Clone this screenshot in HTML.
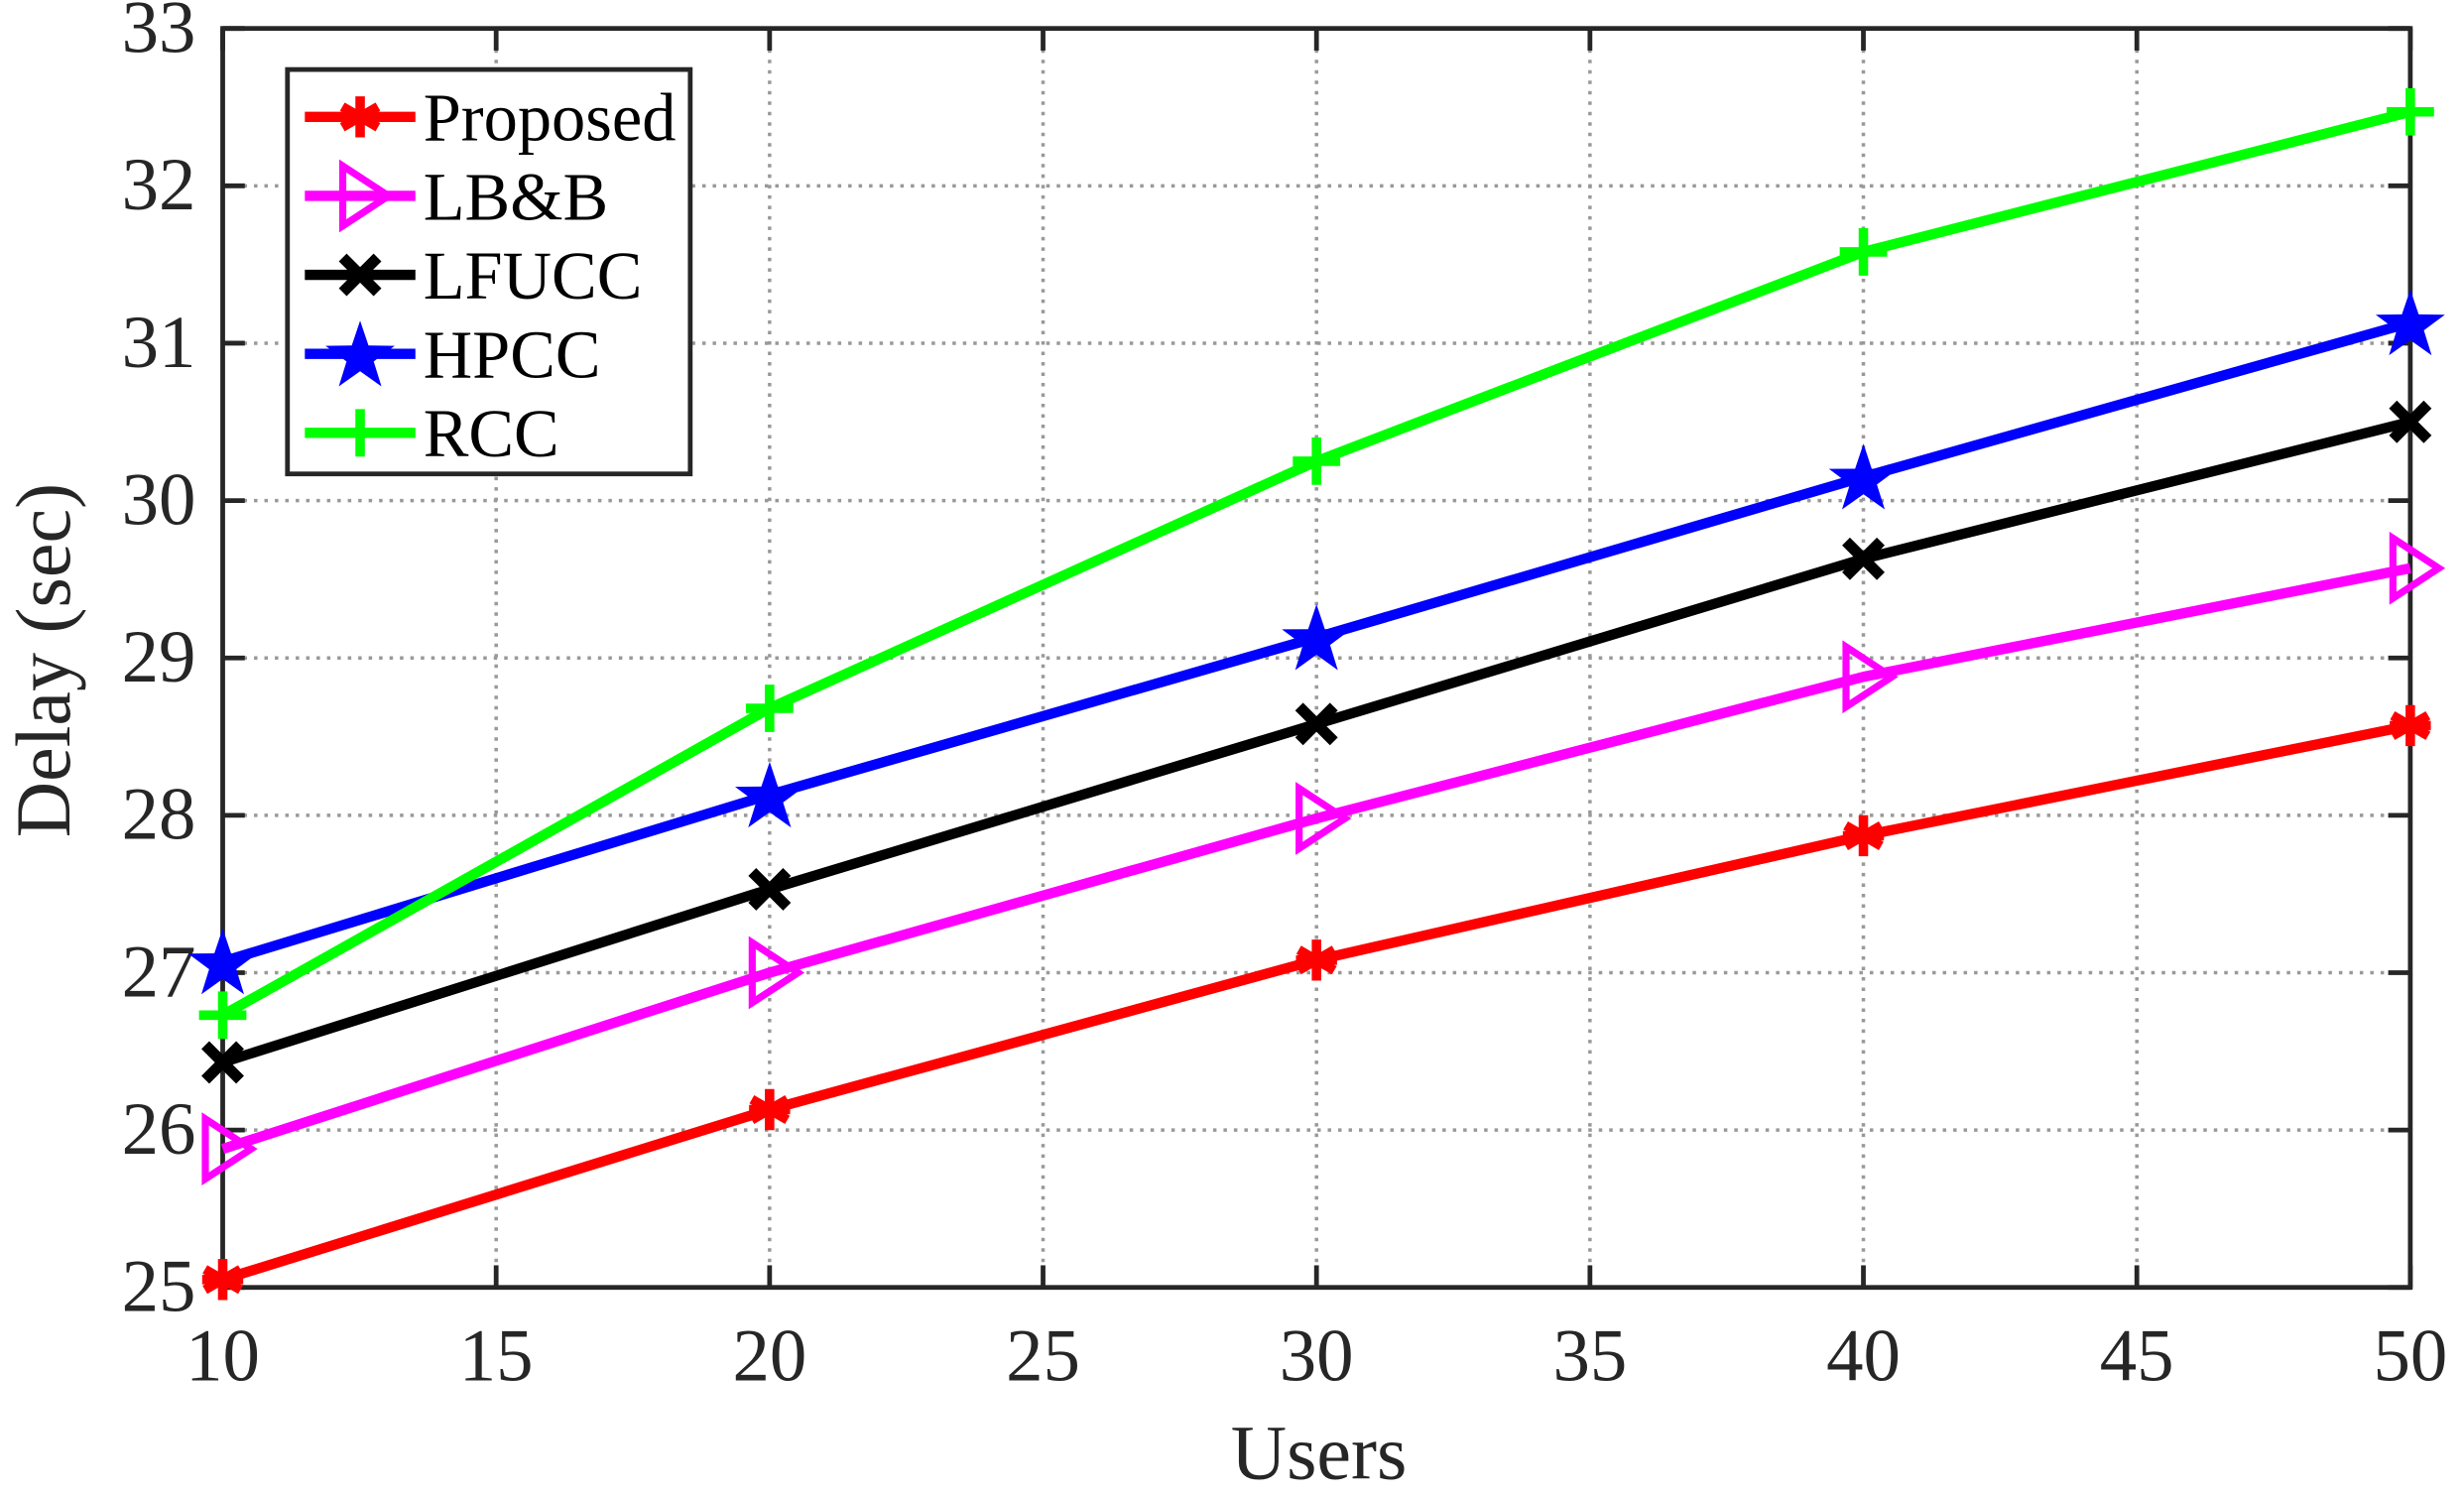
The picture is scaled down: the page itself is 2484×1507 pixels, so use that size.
<!DOCTYPE html>
<html><head><meta charset="utf-8"><style>
html,body{margin:0;padding:0;background:#fff;}
svg{display:block;}
text{font-family:"Liberation Serif",serif;fill:#262626;}
</style></head><body>
<svg id="s" width="2484" height="1507" viewBox="0 0 1560 946.4" xmlns="http://www.w3.org/2000/svg">
<rect width="1560" height="947" fill="#fff"/>
<g id="grid" stroke="#999" stroke-width="2.2" stroke-dasharray="2.2,4.4"></g>
<g id="ax"></g>
<g id="ser"></g>
<g id="leg"></g>
</svg>
<script>
const NS="http://www.w3.org/2000/svg";
function el(p,t,a,txt){const e=document.createElementNS(NS,t);for(const k in a)e.setAttribute(k,a[k]);if(txt!==undefined)e.textContent=txt;p.appendChild(e);return e;}
const L=141,R=1526,T=18,B=815;
const X=u=>L+(u-10)*(R-L)/40, Y=v=>B-(v-25)*(B-T)/8;
const g=document.getElementById('grid'),ax=document.getElementById('ax');
for(let u=15;u<50;u+=5)el(g,'line',{x1:X(u),x2:X(u),y1:T,y2:B});
for(let v=26;v<33;v++)el(g,'line',{x1:L,x2:R,y1:Y(v),y2:Y(v)});
el(ax,'rect',{x:L,y:T,width:R-L,height:B-T,fill:'none',stroke:'#262626','stroke-width':3});
for(let u=10;u<=50;u+=5){el(ax,'line',{x1:X(u),x2:X(u),y1:B,y2:B-14,stroke:'#262626','stroke-width':3});el(ax,'line',{x1:X(u),x2:X(u),y1:T,y2:T+14,stroke:'#262626','stroke-width':3});
el(ax,'text',{x:X(u),y:874,'font-size':47,'text-anchor':'middle'},u);}
for(let v=25;v<=33;v++){el(ax,'line',{x1:L,x2:L+14,y1:Y(v),y2:Y(v),stroke:'#262626','stroke-width':3});el(ax,'line',{x1:R,x2:R-14,y1:Y(v),y2:Y(v),stroke:'#262626','stroke-width':3});
el(ax,'text',{x:124,y:Y(v)+15,'font-size':47,'text-anchor':'end'},v);}
el(ax,'text',{x:835,y:936,'font-size':49,'text-anchor':'middle'},'Users');
el(ax,'text',{x:0,y:0,'font-size':49,'text-anchor':'middle',transform:'translate(44,418) rotate(-90)'},'Delay (sec)');
const S=[
['Proposed','#ff0000','ast',[25.05,26.13,27.08,27.87,28.57]],
['LB&B','#ff00ff','tri',[25.88,27.0,27.98,28.88,29.57]],
['LFUCC','#000000','x',[26.43,27.53,28.58,29.63,30.5]],
['HPCC','#0000ff','star',[27.07,28.13,29.13,30.15,31.13]],
['RCC','#00ff00','plus',[26.73,28.68,30.25,31.58,32.47]]];
function mk(p,type,c,x,y){
 const s={stroke:c,'stroke-width':6,fill:'none'};
 if(type==='ast'){for(const a of [0,60,120]){const r=a*Math.PI/180,dx=13*Math.sin(r),dy=13*Math.cos(r);el(p,'line',Object.assign({x1:x-dx,y1:y-dy,x2:x+dx,y2:y+dy},s));}el(p,'line',Object.assign({x1:x-13,y1:y,x2:x+13,y2:y},s));}
 else if(type==='tri'){el(p,'polygon',Object.assign({points:`${x-11},${y-19} ${x+18},${y} ${x-11},${y+19}`},s,{'stroke-width':4.5}));}
 else if(type==='x'){el(p,'line',Object.assign({x1:x-11,y1:y-11,x2:x+11,y2:y+11},s,{'stroke-width':7}));el(p,'line',Object.assign({x1:x+11,y1:y-11,x2:x-11,y2:y+11},s,{'stroke-width':7}));}
 else if(type==='star'){let pts=[];for(let i=0;i<10;i++){const r=i%2?9:23,a=-Math.PI/2+i*Math.PI/5;pts.push((x+r*Math.cos(a)).toFixed(1)+','+(y+r*Math.sin(a)+2).toFixed(1));}el(p,'polygon',{points:pts.join(' '),fill:c});}
 else if(type==='plus'){el(p,'line',Object.assign({x1:x-15,y1:y,x2:x+15,y2:y},s));el(p,'line',Object.assign({x1:x,y1:y-15,x2:x,y2:y+15},s));}
}
const sg=document.getElementById('ser');
S.forEach(([n,c,t,d])=>{el(sg,'polyline',{points:d.map((v,i)=>X(10+10*i)+','+Y(v)).join(' '),fill:'none',stroke:c,'stroke-width':6.5,'stroke-linejoin':'round'});d.forEach((v,i)=>mk(sg,t,c,X(10+10*i),Y(v)));});
const lg=document.getElementById('leg');
el(lg,'rect',{x:182,y:44,width:255,height:256,fill:'#fff',stroke:'#262626','stroke-width':3});
S.forEach(([n,c,t],i)=>{const y=74+50*i;el(lg,'line',{x1:193,x2:263,y1:y,y2:y,stroke:c,'stroke-width':6.5});mk(lg,t,c,228,y);
el(lg,'text',{x:268,y:y+15,'font-size':43,style:'fill:#000'},n);});
</script>
</body></html>
